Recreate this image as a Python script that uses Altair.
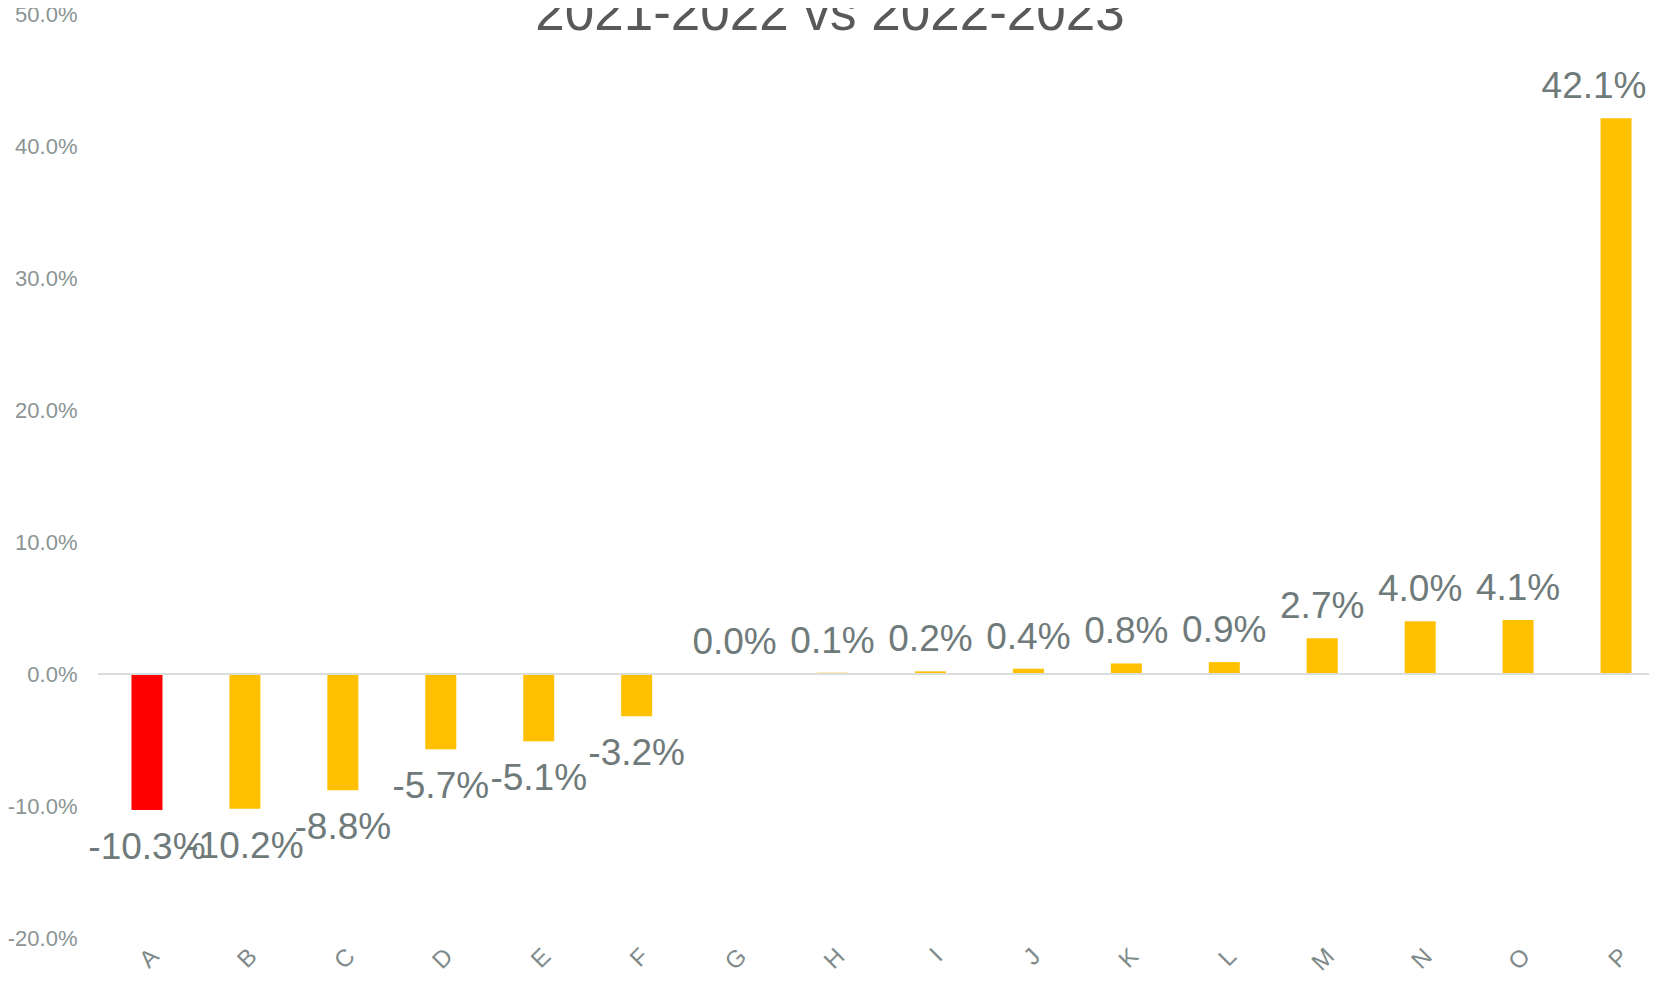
import altair as alt
import pandas as pd

categories = ["A", "B", "C", "D", "E", "F", "G", "H", "I", "J", "K", "L", "M", "N", "O", "P"]
values = [-0.103, -0.102, -0.088, -0.057, -0.051, -0.032, 0.000, 0.001, 0.002, 0.004,
          0.008, 0.009, 0.027, 0.040, 0.041, 0.421]
highlight = ["A"]
title_text = "2021-2022 vs 2022-2023"
y_ticks = [-0.2, -0.1, 0.0, 0.1, 0.2, 0.3, 0.4, 0.5]

df = pd.DataFrame({"cat": categories, "val": values})
df["hl"] = df["cat"].isin(highlight)
df["lbl"] = [f"{v * 100:.1f}%" for v in values]
last_cat = categories[-1]

FONT = "Liberation Sans"

x_enc = alt.X("cat:N", sort=categories, title=None,
              scale=alt.Scale(domain=categories, range=[0, 1567], paddingInner=0, paddingOuter=0),
              axis=alt.Axis(labelAngle=-45, labelFontSize=24, labelColor="#7f8a8a", labelFont=FONT,
                            domain=False, ticks=False, labelPadding=6))
y_enc = alt.Y("val:Q", title=None,
              scale=alt.Scale(domain=[-0.2, 0.5], nice=False),
              axis=alt.Axis(values=y_ticks, labelExpr="replace(format(datum.value, '.1%'), '\u2212', '-')",
                            labelFontSize=22, labelColor="#8a9494",
                            labelFont=FONT, domain=False, ticks=False, grid=False, labelPadding=21))

base = alt.Chart(df)

bars = base.mark_bar(size=31).encode(
    x=x_enc,
    y=y_enc,
    color=alt.Color("hl:N", scale=alt.Scale(domain=[True, False], range=["#ff0000", "#ffc000"]), legend=None),
)

zero = base.mark_rule(color="#d9dddd", strokeWidth=2).encode(
    y=alt.datum(0)
)

label_style = dict(fontSize=37, font=FONT, color="#6f7a7a", baseline="alphabetic")

pos_labels = base.transform_filter(f"datum.val >= 0 && datum.cat != '{last_cat}'").mark_text(
    dy=-20, **label_style
).encode(x=x_enc, y=y_enc, text="lbl:N")

last_label = base.transform_filter(f"datum.val >= 0 && datum.cat == '{last_cat}'").mark_text(
    dy=-20, dx=-22, **label_style
).encode(x=x_enc, y=y_enc, text="lbl:N")

neg_labels = base.transform_filter("datum.val < 0").mark_text(
    dy=49, **label_style
).encode(x=x_enc, y=y_enc, text="lbl:N")

title = alt.Chart(pd.DataFrame({"t": [title_text]})).mark_text(
    fontSize=53, font=FONT, color="#595959", baseline="alphabetic", align="center"
).encode(text="t:N", x=alt.value(732), y=alt.value(16))

chart = alt.layer(bars, zero, pos_labels, last_label, neg_labels, title).properties(
    width=1551, height=924,
    autosize=alt.AutoSizeParams(type="none"),
    padding={"left": 90, "top": 6, "right": 0, "bottom": 40},
    background="white",
).configure_view(stroke=None)

chart.save("out.html", embed_options={"renderer": "svg", "actions": False})
